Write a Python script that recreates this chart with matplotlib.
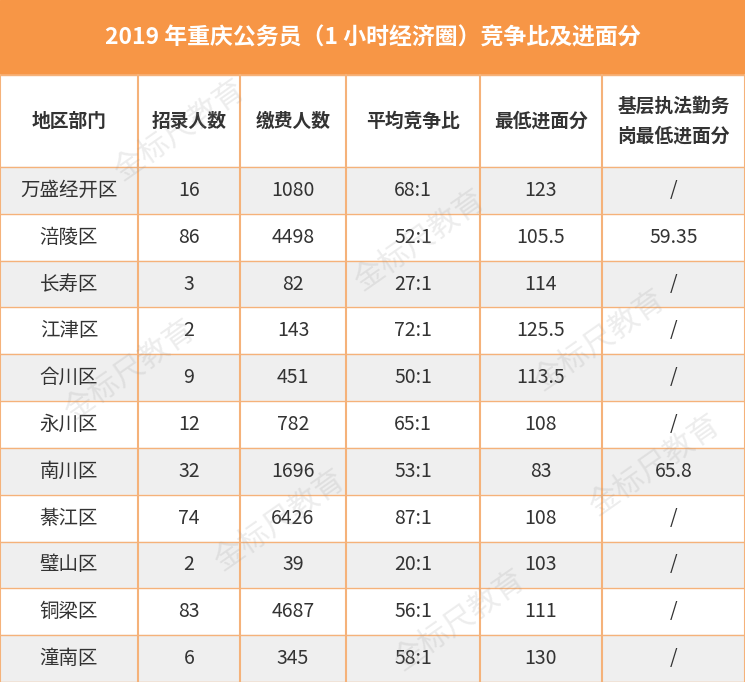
import matplotlib.pyplot as plt
from matplotlib.patches import Rectangle

plt.rcParams["font.family"] = ["Noto Sans CJK SC", "Noto Sans CJK JP", "DejaVu Sans"]

title = "2019 年重庆公务员（1 小时经济圈）竞争比及进面分"
headers = ["地区部门", "招录人数", "缴费人数", "平均竞争比", "最低进面分", "基层执法勤务\n岗最低进面分"]
regions = ["万盛经开区", "涪陵区", "长寿区", "江津区", "合川区", "永川区", "南川区", "綦江区", "璧山区", "铜梁区", "潼南区"]
hires = ["16", "86", "3", "2", "9", "12", "32", "74", "2", "83", "6"]
payers = ["1080", "4498", "82", "143", "451", "782", "1696", "6426", "39", "4687", "345"]
ratios = ["68:1", "52:1", "27:1", "72:1", "50:1", "65:1", "53:1", "87:1", "20:1", "56:1", "58:1"]
min_scores = ["123", "105.5", "114", "125.5", "113.5", "108", "83", "108", "103", "111", "130"]
enforce_scores = ["/", "59.35", "/", "/", "/", "/", "65.8", "/", "/", "/", "/"]

W, H = 745, 682
col_x = [0, 138, 240, 346, 480, 602, 745]
title_h = 75
head_h = 92
row_h = (H - title_h - head_h) / len(regions)
orange = "#f79646"
line_c = "#f5b27a"

fig = plt.figure(figsize=(W / 100, H / 100), dpi=100)
ax = fig.add_axes([0, 0, 1, 1])
ax.set_xlim(0, W)
ax.set_ylim(H, 0)
ax.axis("off")

ax.add_patch(Rectangle((0, 0), W, title_h, color=orange))
ax.text(W / 2, title_h / 2, title, color="white", fontsize=16.5, fontweight="bold", ha="center", va="center")

ax.add_patch(Rectangle((0, title_h), W, head_h, color="white"))
for j, h in enumerate(headers):
    cx = (col_x[j] + col_x[j + 1]) / 2
    ax.text(cx, title_h + head_h / 2, h, fontsize=13.5, fontweight="bold", color="#333333",
            ha="center", va="center", linespacing=1.7)

rows = list(zip(regions, hires, payers, ratios, min_scores, enforce_scores))
for i, r in enumerate(rows):
    y0 = title_h + head_h + i * row_h
    bg = "#efefef" if i % 2 == 0 else "white"
    ax.add_patch(Rectangle((0, y0), W, row_h, color=bg))
    for j, v in enumerate(r):
        cx = (col_x[j] + col_x[j + 1]) / 2
        ax.text(cx, y0 + row_h / 2, v, fontsize=14, color="#333333", ha="center", va="center")

for k in range(len(rows) + 1):
    y = title_h + head_h + k * row_h
    ax.plot([0, W], [y, y], color=line_c, lw=1)
ax.plot([0, W], [title_h, title_h], color=line_c, lw=1)
for x in col_x:
    ax.plot([x, x], [title_h, H], color=line_c, lw=1.5)

# watermark
for wx, wy in [(180, 130), (420, 240), (130, 370), (600, 340), (280, 520), (655, 465), (460, 620)]:
    ax.text(wx, wy, "金标尺教育", fontsize=22, color="#999999", alpha=0.18, rotation=35,
            ha="center", va="center")

fig.savefig("out.png", dpi=100)
